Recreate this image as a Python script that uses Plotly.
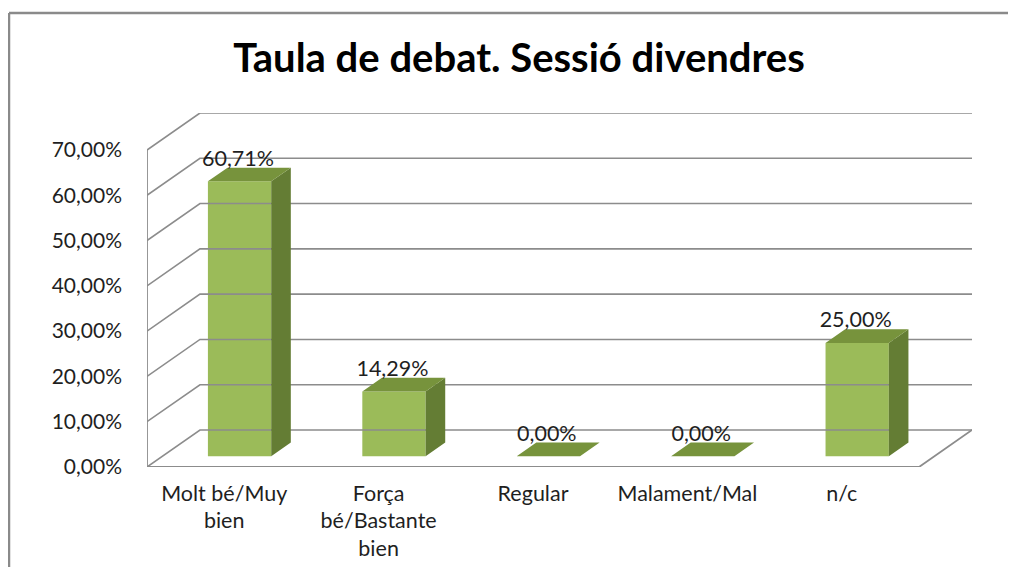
import plotly.graph_objects as go

# ---- data ----
categories = ["Molt bé/Muy<br>bien", "Força<br>bé/Bastante<br>bien", "Regular", "Malament/Mal", "n/c"]
values = [60.71, 14.29, 0.00, 0.00, 25.00]
value_labels = ["60,71%", "14,29%", "0,00%", "0,00%", "25,00%"]
tick_values = [0, 10, 20, 30, 40, 50, 60, 70]
tick_labels = ["0,00%", "10,00%", "20,00%", "30,00%", "40,00%", "50,00%", "60,00%", "70,00%"]

# ---- 3D look geometry (axis units) ----
DX = 0.343      # wall depth along x (category units)
DY = 8.17       # wall depth along y (percent units)
BAR_W = 0.41
FRONT = 0.29    # depth fraction of bar front
DEPTH = 0.37    # depth fraction of bar thickness
YMAX = tick_values[-1]

FONT = "Lato"
TXT = "#1f1f1f"
GRID = "#8c8c8c"
FRONT_C = "#9BBB59"
TOP_C = "#77933C"
SIDE_C = "#647d34"

n = len(categories)
x0, x1 = -0.5, n - 0.5
fx, fy = FRONT * DX, FRONT * DY
ddx, ddy = DEPTH * DX, DEPTH * DY

fig = go.Figure()

# back wall gridlines with diagonal side-wall segment
gx, gy = [], []
for tv in tick_values:
    gx += [x0, x0 + DX, x1 + DX, None]
    gy += [tv, tv + DY, tv + DY, None]
fig.add_trace(go.Scatter(x=gx, y=gy, mode="lines", line=dict(color=GRID, width=1.6),
                         hoverinfo="skip", showlegend=False))
# floor front edge + right diagonal, left axis
fig.add_trace(go.Scatter(x=[x0, x1, x1 + DX], y=[0, 0, DY], mode="lines",
                         line=dict(color=GRID, width=1.8), hoverinfo="skip", showlegend=False))
fig.add_trace(go.Scatter(x=[x0, x0], y=[0, YMAX], mode="lines",
                         line=dict(color=GRID, width=1.8), hoverinfo="skip", showlegend=False))

# bar front faces
xs = [i + fx for i in range(n)]
fig.add_trace(go.Bar(x=xs, y=values, base=[fy] * n, width=BAR_W,
                     marker=dict(color=FRONT_C, line=dict(width=0)), showlegend=False))

# top and side faces
tx, ty, sx, sy = [], [], [], []
for i, v in enumerate(values):
    xl, xr = i + fx - BAR_W / 2, i + fx + BAR_W / 2
    yt = v + fy
    tx += [xl, xr, xr + ddx, xl + ddx, xl, None]
    ty += [yt, yt, yt + ddy, yt + ddy, yt, None]
    if v > 0:
        sx += [xr, xr + ddx, xr + ddx, xr, xr, None]
        sy += [fy, fy + ddy, yt + ddy, yt, fy, None]
fig.add_trace(go.Scatter(x=sx, y=sy, mode="lines", fill="toself", fillcolor=SIDE_C,
                         line=dict(width=0, color=SIDE_C), hoverinfo="skip", showlegend=False))
fig.add_trace(go.Scatter(x=tx, y=ty, mode="lines", fill="toself", fillcolor=TOP_C,
                         line=dict(width=0, color=TOP_C), hoverinfo="skip", showlegend=False))

# data labels
fig.add_trace(go.Scatter(x=[x - 0.01 for x in xs], y=[v + fy + ddy + 1.6 for v in values], mode="text",
                         text=value_labels, textposition="middle center",
                         textfont=dict(family=FONT, size=21.5, color=TXT),
                         hoverinfo="skip", showlegend=False, cliponaxis=False))

# chart border (left and top visible)
bx = (9 - 147) / 825
by = (467 - 13) / 354
fig.add_shape(type="line", xref="paper", yref="paper", x0=bx, x1=bx, y0=by, y1=-0.5,
              line=dict(color="#8a8a8a", width=2.5))
fig.add_shape(type="line", xref="paper", yref="paper", x0=bx, x1=1.2, y0=by, y1=by,
              line=dict(color="#8a8a8a", width=2.5))

fig.update_layout(
    width=1016, height=567,
    margin=dict(l=139, r=52, t=105, b=108),
    paper_bgcolor="white", plot_bgcolor="white",
    barmode="overlay",
    title=dict(text="<b>Taula de debat. Sessió divendres</b>", x=511 / 1016, xref="container",
               xanchor="center", y=1 - 50 / 567, yref="container", yanchor="middle",
               font=dict(family=FONT, size=40, color="#000000")),
    xaxis=dict(range=[x0, x1 + DX], tickvals=list(range(n)), ticktext=categories,
               showgrid=False, zeroline=False, showline=False, ticks="",
               tickfont=dict(family=FONT, size=21.5, color=TXT), ticklabelstandoff=11),
    yaxis=dict(range=[0, YMAX + DY], tickvals=tick_values, ticktext=tick_labels,
               showgrid=False, zeroline=False, showline=False, ticks="",
               tickfont=dict(family=FONT, size=21, color=TXT), ticklabelstandoff=24),
    font=dict(family=FONT),
)

fig.write_html("out.html")
